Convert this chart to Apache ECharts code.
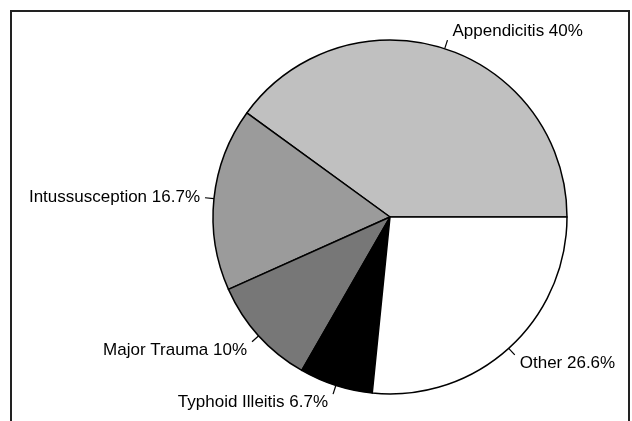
<!DOCTYPE html>
<html>
<head>
<meta charset="utf-8">
<script src="https://cdn.jsdelivr.net/npm/echarts@6/dist/echarts.min.js"></script>
<style>html,body{margin:0;padding:0;background:#fff;}#c{width:632px;height:421px;}</style>
</head>
<body>
<div id="c"></div>
<script>
const categories = ['Appendicitis', 'Intussusception', 'Major Trauma', 'Typhoid Illeitis', 'Other'];
const values = [40, 16.7, 10, 6.7, 26.6];
const valueLabels = ['40%', '16.7%', '10%', '6.7%', '26.6%'];

const sliceColors = ['#c0c0c0', '#9b9b9b', '#777777', '#000000', '#ffffff'];
// label vertical placement relative to the label line end: -1 above, 0 centred, 1 below
const labelSide = [-1, 0, 1, 1, 1];

const chart = echarts.init(document.getElementById('c'), null, {renderer: 'canvas'});
chart.setOption({
  backgroundColor: '#ffffff',
  animation: false,
  graphic: [{
    type: 'rect',
    shape: {x: 11, y: 11, width: 618, height: 500},
    style: {fill: 'none', stroke: '#222', lineWidth: 2},
    silent: true, z: 0
  }],
  series: [{
    type: 'pie',
    center: [390, 217],
    radius: 177,
    startAngle: 0,
    clockwise: false,
    avoidLabelOverlap: false,
    itemStyle: {borderColor: '#000', borderWidth: 1.5},
    label: {
      show: true,
      position: 'outside',
      color: '#000',
      fontFamily: 'Liberation Sans, Arial, Helvetica, sans-serif',
      fontSize: 17,
      lineHeight: 17,
      distanceToLabelLine: 5,
      formatter: function (p) {
        const t = p.name + ' ' + valueLabels[p.dataIndex];
        const s = labelSide[p.dataIndex];
        return s < 0 ? t + '\n ' : (s > 0 ? ' \n' + t : t);
      }
    },
    labelLine: {show: true, length: 9, length2: 0, lineStyle: {color: '#000', width: 1.2}},
    emphasis: {disabled: true},
    data: categories.map((n, i) => ({
      name: n,
      value: values[i],
      itemStyle: {color: sliceColors[i]}
    }))
  }]
});
</script>
</body>
</html>
